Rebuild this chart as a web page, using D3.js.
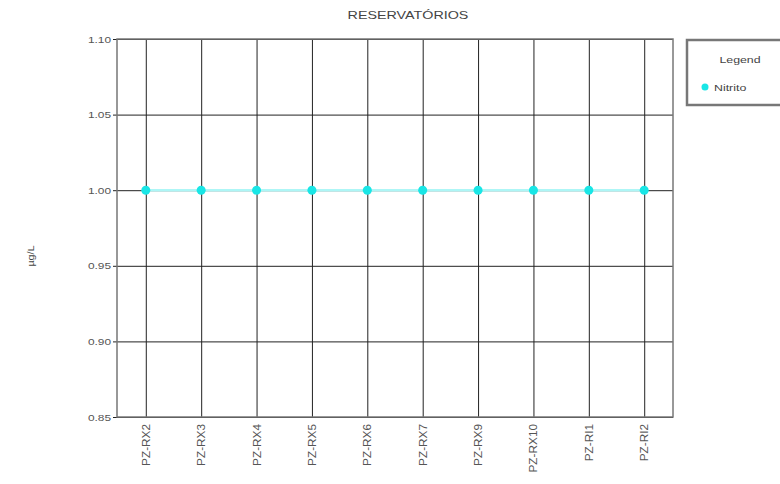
<!DOCTYPE html>
<html>
<head>
<meta charset="utf-8">
<script src="https://cdn.jsdelivr.net/npm/d3@7"></script>
<style>
  body { margin: 0; background: #fff; }
  svg { font-family: "Liberation Sans", Arial, sans-serif; }
</style>
</head>
<body>
<svg id="chart" width="780" height="484"></svg>
<script>
// Sampling points and measured values (µg/L)
const categories = ["PZ-RX2", "PZ-RX3", "PZ-RX4", "PZ-RX5", "PZ-RX6", "PZ-RX7", "PZ-RX9", "PZ-RX10", "PZ-RI1", "PZ-RI2"];
const nitrito = [1.00, 1.00, 1.00, 1.00, 1.00, 1.00, 1.00, 1.00, 1.00, 1.00];
const yTicks = [0.85, 0.90, 0.95, 1.00, 1.05, 1.10];
const seriesName = "Nitrito";

const svg = d3.select("#chart");
const margin = { left: 117, right: 107, top: 39, bottom: 67 };
const W = 780, H = 484;
const innerW = W - margin.left - margin.right;
const innerH = H - margin.top - margin.bottom;

// Widen glyphs horizontally (wide grotesque look)
function stretch(sel, k) {
  sel.each(function () {
    const len = this.getComputedTextLength();
    d3.select(this).attr("textLength", len * k).attr("lengthAdjust", "spacingAndGlyphs");
  });
}

const x = d3.scalePoint().domain(categories).range([0, innerW]).padding(0.52);
const y = d3.scaleLinear().domain([0.85, 1.10]).range([innerH, 0]);

const g = svg.append("g").attr("transform", `translate(${margin.left},${margin.top})`);

// Title
svg.append("text")
  .attr("x", 408).attr("y", 19)
  .attr("text-anchor", "middle")
  .attr("font-size", 11).attr("fill", "#444")
  .text("RESERVATÓRIOS")
  .call(stretch, 1.3);

// Y axis label
svg.append("text")
  .attr("transform", "translate(34,256) rotate(-90)")
  .attr("text-anchor", "middle")
  .attr("font-size", 9).attr("fill", "#444")
  .text("µg/L")
  .call(stretch, 1.2);

// Horizontal grid lines with short ticks to the left
const yAxis = d3.axisLeft(y).tickValues(yTicks).tickFormat(d3.format(".2f"))
  .tickSize(-innerW).tickSizeOuter(0).tickPadding(6);
const yg = g.append("g").call(yAxis);
yg.select(".domain").remove();
yg.selectAll(".tick line").attr("x1", -4).attr("stroke", "#222").attr("stroke-width", 1);
yg.selectAll(".tick text").attr("font-size", 9.5).attr("fill", "#555").call(stretch, 1.25);

// Vertical grid lines at each sampling point
const xAxis = d3.axisBottom(x).tickSize(-innerH).tickSizeOuter(0).tickPadding(8);
const xg = g.append("g").attr("transform", `translate(0,${innerH})`).call(xAxis);
xg.select(".domain").remove();
xg.selectAll(".tick line").attr("stroke", "#222").attr("stroke-width", 1);
xg.selectAll(".tick text")
  .attr("font-size", 10).attr("fill", "#555")
  .attr("text-anchor", "end")
  .attr("transform", "rotate(-90)")
  .attr("x", -7).attr("y", 0).attr("dy", "0.35em")
  .call(stretch, 1.18);

// Plot frame
g.append("rect")
  .attr("x", 0).attr("y", 0).attr("width", innerW).attr("height", innerH)
  .attr("fill", "none").attr("stroke", "#777").attr("stroke-width", 1.5);

// Series line and markers
const line = d3.line().x((d, i) => x(categories[i])).y(d => y(d));
g.append("path").datum(nitrito)
  .attr("d", line).attr("fill", "none")
  .attr("stroke", "#aef6f6").attr("stroke-width", 2.6);
g.selectAll("circle.pt").data(nitrito).join("circle")
  .attr("class", "pt")
  .attr("cx", (d, i) => x(categories[i])).attr("cy", d => y(d))
  .attr("r", 4.5).attr("fill", "#19e6e6");

// Legend
const lg = svg.append("g").attr("transform", "translate(687,40)");
lg.append("rect").attr("x", 0).attr("y", 0).attr("width", 100).attr("height", 65)
  .attr("fill", "#fff").attr("stroke", "#777").attr("stroke-width", 2.5);
lg.append("text").attr("x", 53).attr("y", 23).attr("text-anchor", "middle")
  .attr("font-size", 9.5).attr("fill", "#444").text("Legend")
  .call(stretch, 1.3);
lg.append("circle").attr("cx", 18).attr("cy", 47).attr("r", 3.5).attr("fill", "#19e6e6");
lg.append("text").attr("x", 27).attr("y", 50.5)
  .attr("font-size", 9.5).attr("fill", "#444").text(seriesName)
  .call(stretch, 1.3);
</script>
</body>
</html>
